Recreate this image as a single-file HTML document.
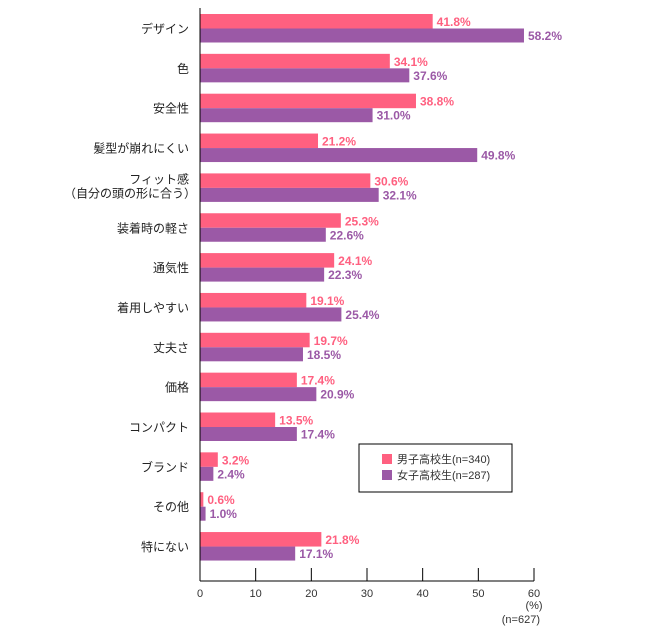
<!DOCTYPE html>
<html><head><meta charset="utf-8"><style>
body{margin:0;background:#fff;font-family:"Liberation Sans","Noto Sans CJK JP",sans-serif}
svg text{font-family:"Liberation Sans","Noto Sans CJK JP",sans-serif}
</style></head><body>
<svg width="663" height="634" id="c">
<g id="bars"></g>
<line x1="200" y1="8" x2="200" y2="581" stroke="#000"/>
<line x1="200" y1="581" x2="534" y2="581" stroke="#000"/>
<g id="ticks"></g>
<text x="534" y="609" font-size="11" text-anchor="middle" fill="#333">(%)</text>
<text x="540" y="623" font-size="11" text-anchor="end" fill="#333">(n=627)</text>
<g>
<rect x="359" y="444" width="153" height="48" fill="#fff" stroke="#000"/>
<rect x="382" y="454" width="10" height="10" fill="#ff6080"/>
<text x="397" y="463" font-size="11" fill="#333">男子高校生(n=340)</text>
<rect x="382" y="470" width="10" height="10" fill="#9b59a6"/>
<text x="397" y="479" font-size="11" fill="#333">女子高校生(n=287)</text>
</g>
</svg>
<script>
const categories=[["デザイン"],["色"],["安全性"],["髪型が崩れにくい"],["フィット感","（自分の頭の形に合う）"],["装着時の軽さ"],["通気性"],["着用しやすい"],["丈夫さ"],["価格"],["コンパクト"],["ブランド"],["その他"],["特にない"]];
const maleValues=[41.8,34.1,38.8,21.2,30.6,25.3,24.1,19.1,19.7,17.4,13.5,3.2,0.6,21.8];
const femaleValues=[58.2,37.6,31.0,49.8,32.1,22.6,22.3,25.4,18.5,20.9,17.4,2.4,1.0,17.1];
const tickLabels=[0,10,20,30,40,50,60];
const NS="http://www.w3.org/2000/svg";
const x=v=>200+v*(334/60);
const rowY=i=>14+i*39.85;
const g=document.getElementById('bars'),t=document.getElementById('ticks');
function mk(tag,at,p){const e=document.createElementNS(NS,tag);for(const k in at)e.setAttribute(k,at[k]);p.appendChild(e);return e;}
categories.forEach((c,i)=>{
  const y=rowY(i);
  const r1=mk('rect',{x:200,y:y,width:x(maleValues[i])-200,height:14.5,fill:'#ff6080'},g);
  
  
  const r2=mk('rect',{x:200,y:y+14.5,width:x(femaleValues[i])-200,height:14,fill:'#9b59a6'},g);
  
  
  const l1=mk('text',{x:x(maleValues[i])+4,y:y+12,'font-size':12,'font-weight':'bold',fill:'#ff6080'},g);
  l1.textContent=maleValues[i].toFixed(1)+'%';
  
  
  const l2=mk('text',{x:x(femaleValues[i])+4,y:y+26,'font-size':12,'font-weight':'bold',fill:'#9b59a6'},g);
  l2.textContent=femaleValues[i].toFixed(1)+'%';
  
  
  c.forEach((s,j)=>{
    const cl=mk('text',{x:c.length>1&&j==1?196:189,y:y+(c.length>1?10+j*14:19),'font-size':12,'text-anchor':'end',fill:'#222'},g);
    cl.textContent=s;
    
    
  });
});
tickLabels.forEach(v=>{
  const ln=mk('line',{x1:x(v),y1:568,x2:x(v),y2:581,stroke:'#000'},t);
  
  
  const tx=mk('text',{x:x(v),y:597,'font-size':11,'text-anchor':'middle',fill:'#333'},t);
  tx.textContent=v;
  
  
});
</script>
</body></html>
